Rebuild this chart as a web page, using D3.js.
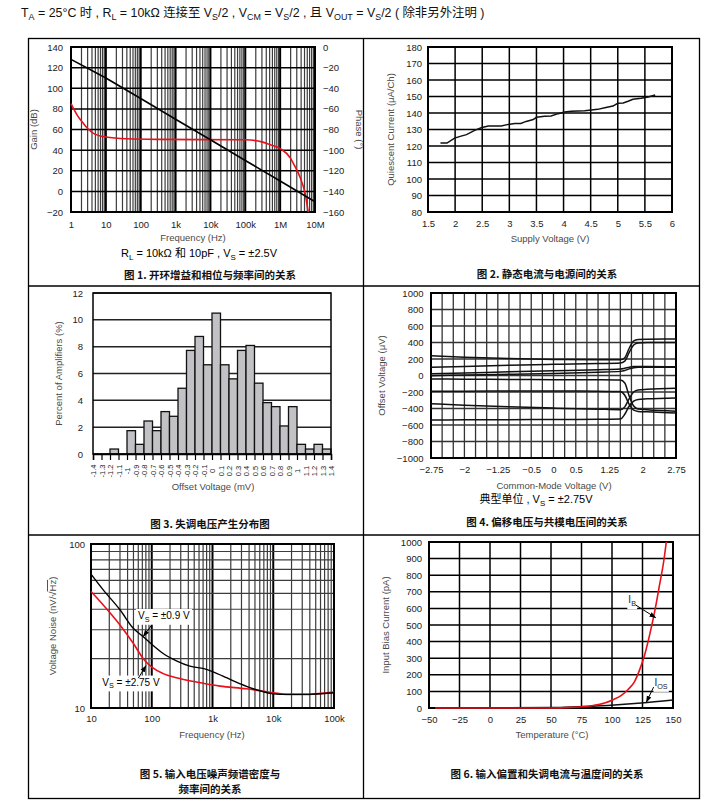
<!DOCTYPE html>
<html><head><meta charset="utf-8">
<script src="https://cdn.jsdelivr.net/npm/d3@7"></script>
<style>body{margin:0;background:#fff}svg{display:block}</style>
</head><body><script>
// ---------------- DATA ----------------
// Fig 1: open-loop gain & phase vs frequency
const gainFreq = [1, 10, 100, 1e3, 1e4, 1e5, 1e6, 1e7];
const gainDb = [128, 110, 90, 70, 50, 30, 10, -10];
const phaseFreq = [1, 1.5, 2.25, 3, 4.4, 10, 40, 300, 1e5, 3e5, 5e5, 1e6, 2e6, 2.4e6, 3.7e6, 5.2e6, 6.4e6];
const phaseDeg = [-55, -66, -74, -79, -83.7, -87.3, -89, -89.6, -90, -92, -94.5, -98.5, -108, -113, -126, -142, -160];
const fig1FreqTicks = [1, 10, 100, 1e3, 1e4, 1e5, 1e6, 1e7];
const fig1FreqLabels = ["1", "10", "100", "1k", "10k", "100k", "1M", "10M"];
const gainTicks = [-20, 0, 20, 40, 60, 80, 100, 120, 140];
const phaseTicks = [-160, -140, -120, -100, -80, -60, -40, -20, 0];

// Fig 2: quiescent current vs supply voltage
const supplyV = [1.73, 1.85, 1.99, 2.11, 2.21, 2.36, 2.48, 2.61, 2.85, 2.98, 3.1, 3.21, 3.31, 3.44, 3.5, 3.65, 3.77, 3.9, 4.02, 4.14, 4.39, 4.63, 4.76, 4.91, 5.0, 5.1, 5.19, 5.28, 5.43, 5.56, 5.69];
const quiescent = [121.8, 121.8, 124.8, 126, 126.9, 129.5, 131.1, 132.1, 132.1, 133.1, 133.7, 133.7, 134.9, 136, 137.4, 138, 138.2, 139.6, 140.6, 141, 141.4, 142.2, 143.2, 144.2, 145.9, 146.1, 147.1, 148.3, 148.9, 149.7, 150.9];
const supplyTicks = [1.5, 2, 2.5, 3, 3.5, 4, 4.5, 5, 5.5, 6];
const iqTicks = [80, 90, 100, 110, 120, 130, 140, 150, 160, 170, 180];

// Fig 3: offset voltage distribution (bins of 0.1 mV from -1.4 to 1.4)
const offsetEdges = [-1.4, -1.3, -1.2, -1.1, -1.0, -0.9, -0.8, -0.7, -0.6, -0.5, -0.4, -0.3, -0.2, -0.1, 0, 0.1, 0.2, 0.3, 0.4, 0.5, 0.6, 0.7, 0.8, 0.9, 1.0, 1.1, 1.2, 1.3, 1.4];
const offsetLabels = ["-1.4", "-1.3", "-1.2", "-1.1", "-1", "-0.9", "-0.8", "-0.7", "-0.6", "-0.5", "-0.4", "-0.3", "-0.2", "-0.1", "0", "0.1", "0.2", "0.3", "0.4", "0.5", "0.6", "0.7", "0.8", "0.9", "1", "1.1", "1.2", "1.3", "1.4"];
const percentAmps = [0, 0, 0.37, 0, 1.74, 0.72, 2.46, 1.74, 3.16, 2.81, 4.9, 7.72, 8.76, 6.65, 10.5, 6.65, 5.6, 7.72, 8.09, 5.28, 3.83, 3.53, 2.09, 3.53, 0.72, 0.37, 0.72, 0.37];
const percentTicks = [0, 2, 4, 6, 8, 10, 12];

// Fig 4: offset voltage vs common-mode voltage (typical units)
const cmV = [-2.75, -2, -1, 0, 1, 1.5, 1.6, 1.7, 1.8, 1.9, 2.1, 2.75];
const unitA = [240, 222, 205, 195, 190, 190, 215, 330, 420, 436, 440, 442];
const unitB = [100, 110, 125, 135, 145, 152, 175, 280, 370, 395, 400, 401];
const unitC = [20, 30, 45, 58, 70, 79, 88, 100, 108, 110, 108, 105];
const unitD = [-2, 5, 15, 25, 40, 50, 60, 80, 95, 100, 100, 100];
const unitE = [-42, -45, -48, -50, -52, -55, -90, -250, -370, -405, -415, -432];
const unitF = [-192, -190, -188, -188, -190, -195, -240, -350, -420, -435, -440, -455];
const unitG = [-342, -360, -380, -395, -408, -414, -380, -280, -200, -175, -168, -155];
const unitH = [-540, -537, -535, -533, -531, -527, -470, -370, -310, -290, -283, -272];
const cmTicks = [-2.75, -2, -1.25, -0.5, 0, 0.5, 1.25, 2, 2.75];
const vosTicks = [-1000, -800, -600, -400, -200, 0, 200, 400, 600, 800, 1000];

// Fig 5: voltage noise vs frequency
const noiseFreq = [10, 15.9, 30, 49.6, 72.5, 103, 154, 255, 424, 794, 1020, 1700, 2800, 4650, 10000, 16500, 31000, 100000];
const noise09 = [65.5, 52.5, 39.7, 30.6, 27.2, 24.2, 21.5, 19.4, 18.0, 17.2, 16.6, 15.3, 14.1, 13.1, 12.2, 12.1, 12.1, 12.4];
const noiseFreq2 = [10, 15.9, 30, 49.6, 72.5, 103, 154, 255, 545, 1330, 3600, 10000, 16500, 31000, 100000];
const noise275 = [51.3, 42.5, 32.1, 24.8, 20.0, 17.6, 16.2, 15.3, 14.4, 13.6, 13.1, 12.4, 12.1, 12.1, 12.5];
const noiseFreqTicks = [10, 100, 1e3, 1e4, 1e5];
const noiseFreqLabels = ["10", "100", "1k", "10k", "100k"];
const noiseTicks = [10, 100];

// Fig 6: input bias & offset current vs temperature
const tempIb = [-45, 0, 50, 66.8, 83, 94, 100.9, 107.7, 113, 118.6, 122.7, 126.8, 130.9, 135, 139, 142.4, 144.5];
const ib = [0, 0, 0, 4, 14, 30, 50, 76, 110, 161, 231, 321, 442, 582, 743, 884, 1000];
const tempIos = [-45, 0, 50, 66.8, 83, 102, 124, 150];
const ios = [0, 0, 2, 6, 10, 18, 30, 48];
const tempTicks = [-50, -25, 0, 25, 50, 75, 100, 125, 150];
const biasTicks = [0, 100, 200, 300, 400, 500, 600, 700, 800, 900, 1000];

// ---------------- DRAWING ----------------
const LAT = "'Liberation Sans', Arial, 'Noto Sans CJK SC', sans-serif";
const CJK = "'Noto Sans CJK SC', 'Liberation Sans', sans-serif";
const TICK = 9.5, TITLE = 9.5, TCOL = "#222", ACOL = "#4a4a4a";
const fmt = d => String(d).replace("-", "\u2212");

const svg = d3.select("body").append("svg").attr("width", 727).attr("height", 811)
  .style("font-family", LAT);
const defs = svg.append("defs");
defs.append("marker").attr("id", "arr").attr("viewBox", "0 0 10 10")
  .attr("refX", 9).attr("refY", 5).attr("markerWidth", 7).attr("markerHeight", 7)
  .attr("orient", "auto").attr("markerUnits", "userSpaceOnUse")
  .append("path").attr("d", "M0,1.5L10,5L0,8.5z").attr("fill", "#000");

// rich text with subscripts
function rich(g, x, y, parts, size, opts = {}) {
  const t = g.append("text").attr("x", x).attr("y", y).attr("font-size", size)
    .attr("text-anchor", opts.anchor || "start").attr("fill", opts.fill || "#000")
    .attr("font-weight", opts.weight || "normal");
  if (opts.family) t.attr("font-family", opts.family);
  if (opts.transform) t.attr("transform", opts.transform);
  let off = 0;
  parts.forEach(p => {
    if (typeof p === "string") {
      t.append("tspan").attr("dy", -off).text(p); off = 0;
    } else if (p.sub) {
      const d = size * 0.28;
      t.append("tspan").attr("dy", d - off).attr("font-size", size * 0.72).text(p.sub); off = d;
    } else if (p.over) {
      t.append("tspan").attr("dy", -off).style("text-decoration", "overline").text(p.over); off = 0;
    }
  });
  return t;
}
// white box behind a text element
function backing(g, t, pad) {
  const b = t.node().getBBox();
  g.insert("rect", () => t.node()).attr("x", b.x - pad).attr("y", b.y - 1)
    .attr("width", b.width + 2 * pad).attr("height", b.height + 2).attr("fill", "#fff");
}
function vgrid(g, xs, vals, y0, y1, col, w) {
  g.append("g").selectAll("line").data(vals).join("line")
    .attr("x1", d => xs(d)).attr("x2", d => xs(d)).attr("y1", y0).attr("y2", y1)
    .attr("stroke", col).attr("stroke-width", w);
}
function hgrid(g, ys, vals, x0, x1, col, w) {
  g.append("g").selectAll("line").data(vals).join("line")
    .attr("y1", d => ys(d)).attr("y2", d => ys(d)).attr("x1", x0).attr("x2", x1)
    .attr("stroke", col).attr("stroke-width", w);
}
function frame(g, xs, ys, w) {
  const [x0, x1] = xs.range(), [y0, y1] = ys.range();
  g.append("rect").attr("x", Math.min(x0, x1)).attr("y", Math.min(y0, y1))
    .attr("width", Math.abs(x1 - x0)).attr("height", Math.abs(y1 - y0))
    .attr("fill", "none").attr("stroke", "#000").attr("stroke-width", w);
}
function labelAxis(g, axis, tx, ty) {
  const a = g.append("g").attr("transform", `translate(${tx},${ty})`).call(axis);
  a.attr("font-family", LAT).attr("font-size", TICK);
  a.select(".domain").remove();
  a.selectAll(".tick line").remove();
  a.selectAll("text").attr("fill", TCOL);
  return a;
}
function yTitle(g, x, y, parts, rot = -90) {
  return rich(g, 0, 0, parts, TITLE, { anchor: "middle", fill: ACOL, transform: `translate(${x},${y}) rotate(${rot})` })
    .attr("dy", "0.35em");
}
function caption(g, x, y, txt) {
  g.append("text").attr("x", x).attr("y", y).attr("text-anchor", "middle")
    .attr("font-family", CJK).attr("font-weight", "bold").attr("font-size", 10.5).attr("fill", "#111").text(txt);
}
const mid = s => (s.range()[0] + s.range()[1]) / 2;

// header
rich(svg, 21, 17, ["T", { sub: "A" }, " = 25°C 时 , R", { sub: "L" }, " = 10kΩ 连接至 V", { sub: "S" }, "/2 , V", { sub: "CM" },
  " = V", { sub: "S" }, "/2 , 且 V", { sub: "OUT" }, " = V", { sub: "S" }, "/2 ( 除非另外注明 )"], 12.4, { fill: "#111" });

// outer table
const T = svg.append("g").attr("stroke", "#000").attr("stroke-width", 1.3).attr("fill", "none");
T.append("rect").attr("x", 28.5).attr("y", 38.5).attr("width", 671).attr("height", 760);
T.append("line").attr("x1", 363.5).attr("x2", 363.5).attr("y1", 38.5).attr("y2", 798.5);
T.append("line").attr("x1", 28.5).attr("x2", 699.5).attr("y1", 286).attr("y2", 286);
T.append("line").attr("x1", 28.5).attr("x2", 699.5).attr("y1", 535).attr("y2", 535);

// ---------- Fig 1 ----------
{
  const g = svg.append("g");
  const x = d3.scaleLog().domain([1, 1e7]).range([71, 315]);
  const y = d3.scaleLinear().domain([-20, 140]).range([212, 47]);
  const yp = d3.scaleLinear().domain([-160, 0]).range([212, 47]);
  const minor = [];
  for (let e = 0; e < 7; e++) for (let m = 2; m <= 9; m++) minor.push(m * Math.pow(10, e));
  vgrid(g, x, minor, 47, 212, "#3c3c3c", 1.2);
  vgrid(g, x, fig1FreqTicks, 47, 212, "#000", 2);
  hgrid(g, y, gainTicks, 71, 315, "#000", 1.5);
  frame(g, x, y, 2);
  g.append("path").datum(phaseFreq.map((f, i) => [f, phaseDeg[i]]))
    .attr("d", d3.line().x(d => x(d[0])).y(d => yp(d[1])).curve(d3.curveMonotoneX))
    .attr("fill", "none").attr("stroke", "#e8101a").attr("stroke-width", 1.6);
  g.append("path").datum(gainFreq.map((f, i) => [f, gainDb[i]]))
    .attr("d", d3.line().x(d => x(d[0])).y(d => y(d[1])))
    .attr("fill", "none").attr("stroke", "#000").attr("stroke-width", 1.6);
  labelAxis(g, d3.axisLeft(y).tickValues(gainTicks).tickSize(0).tickPadding(8).tickFormat(fmt), 71, 0);
  labelAxis(g, d3.axisRight(yp).tickValues(phaseTicks).tickSize(0).tickPadding(8).tickFormat(fmt), 315, 0);
  labelAxis(g, d3.axisBottom(x).tickValues(fig1FreqTicks).tickSize(0).tickPadding(9).tickFormat((d, i) => fig1FreqLabels[i]), 0, 212);
  yTitle(g, 37, mid(y), ["Gain (dB)"]);
  yTitle(g, 356, mid(y), ["Phase (°)"], 90);
  g.append("text").attr("x", mid(x)).attr("y", 241).attr("text-anchor", "middle").attr("font-size", TITLE).attr("fill", ACOL).text("Frequency (Hz)");
  rich(g, 199, 257, ["R", { sub: "L" }, " = 10kΩ 和 10pF , V", { sub: "S" }, " = ±2.5V"], 11, { anchor: "middle" });
  caption(g, 210, 279, "图 1. 开环增益和相位与频率间的关系");
}

// ---------- Fig 2 ----------
{
  const g = svg.append("g");
  const x = d3.scaleLinear().domain([1.5, 6]).range([428, 672]);
  const y = d3.scaleLinear().domain([80, 180]).range([212, 47]);
  vgrid(g, x, supplyTicks, 47, 212, "#000", 1.5);
  hgrid(g, y, iqTicks, 428, 672, "#000", 1.5);
  frame(g, x, y, 2);
  g.append("path").datum(supplyV.map((v, i) => [v, quiescent[i]]))
    .attr("d", d3.line().x(d => x(d[0])).y(d => y(d[1])))
    .attr("fill", "none").attr("stroke", "#111").attr("stroke-width", 1.5);
  labelAxis(g, d3.axisLeft(y).tickValues(iqTicks).tickSize(0).tickPadding(6), 428, 0);
  labelAxis(g, d3.axisBottom(x).tickValues(supplyTicks).tickSize(0).tickPadding(8).tickFormat(d => String(d)), 0, 212);
  yTitle(g, 394, mid(y), ["Quiescent Current (μA/Ch)"]);
  g.append("text").attr("x", mid(x)).attr("y", 242).attr("text-anchor", "middle").attr("font-size", TITLE).attr("fill", ACOL).text("Supply Voltage (V)");
  caption(g, 547, 278, "图 2. 静态电流与电源间的关系");
}

// ---------- Fig 3 ----------
{
  const g = svg.append("g");
  const x = d3.scaleLinear().domain([-1.4, 1.4]).range([93, 331]);
  const y = d3.scaleLinear().domain([0, 12]).range([454, 293]);
  hgrid(g, y, percentTicks, 93, 331, "#222", 1.5);
  g.append("g").selectAll("rect").data(percentAmps).join("rect")
    .attr("x", (d, i) => x(offsetEdges[i])).attr("width", (d, i) => x(offsetEdges[i + 1]) - x(offsetEdges[i]))
    .attr("y", d => y(d)).attr("height", d => y(0) - y(d))
    .attr("fill", "#c2c2c6").attr("stroke", "#111").attr("stroke-width", 1.3);
  frame(g, x, y, 1.5);
  labelAxis(g, d3.axisLeft(y).tickValues(percentTicks).tickSize(0).tickPadding(10), 93, 0);
  const ax = g.append("g").attr("transform", `translate(0,${y(0)})`)
    .call(d3.axisBottom(x).tickValues(offsetEdges).tickSize(6).tickPadding(0).tickFormat((d, i) => offsetLabels[i]));
  ax.attr("font-family", LAT).attr("font-size", 7.5);
  ax.select(".domain").attr("stroke", "#000").attr("stroke-width", 1.5);
  ax.selectAll(".tick line").attr("stroke", "#000").attr("stroke-width", 1.2);
  ax.selectAll("text").attr("fill", TCOL).attr("transform", "rotate(-90)")
    .attr("x", -17).attr("y", 0).attr("dy", "0.35em").attr("text-anchor", "middle");
  yTitle(g, 62, mid(y), ["Percent of Amplifiers (%)"]);
  g.append("text").attr("x", 213).attr("y", 490).attr("text-anchor", "middle").attr("font-size", TITLE).attr("fill", ACOL).text("Offset Voltage (mV)");
  caption(g, 210, 528, "图 3. 失调电压产生分布图");
}

// ---------- Fig 4 ----------
{
  const g = svg.append("g");
  const x = d3.scaleLinear().domain([-2.75, 2.75]).range([431, 676]);
  const y = d3.scaleLinear().domain([-1000, 1000]).range([458, 293]);
  vgrid(g, x, d3.range(0, 23).map(i => -2.75 + i * 0.25), 293, 458, "#333", 1.3);
  hgrid(g, y, vosTicks, 431, 676, "#333", 1.3);
  frame(g, x, y, 2);
  const line = d3.line().x((d, i) => x(cmV[i])).y(d => y(d)).curve(d3.curveMonotoneX);
  g.append("g").selectAll("path").data([unitA, unitB, unitC, unitD, unitE, unitF, unitG, unitH]).join("path")
    .attr("d", line).attr("fill", "none").attr("stroke", "#111").attr("stroke-width", 1.5);
  labelAxis(g, d3.axisLeft(y).tickValues(vosTicks).tickSize(0).tickPadding(7.5).tickFormat(fmt), 431, 0);
  labelAxis(g, d3.axisBottom(x).tickValues(cmTicks).tickSize(0).tickPadding(8).tickFormat(fmt), 0, 458);
  yTitle(g, 385, mid(y), ["Offset Voltage (μV)"]);
  g.append("text").attr("x", 554).attr("y", 489).attr("text-anchor", "middle").attr("font-size", TITLE).attr("fill", ACOL).text("Common-Mode Voltage (V)");
  rich(g, 536, 503, ["典型单位 , V", { sub: "S" }, " = ±2.75V"], 11, { anchor: "middle" });
  caption(g, 547, 526, "图 4. 偏移电压与共模电压间的关系");
}

// ---------- Fig 5 ----------
{
  const g = svg.append("g");
  const x = d3.scaleLog().domain([10, 1e5]).range([91, 334]);
  const y = d3.scaleLog().domain([10, 100]).range([708, 544]);
  const minor = [];
  for (let e = 1; e < 5; e++) for (let m = 2; m <= 9; m++) minor.push(m * Math.pow(10, e));
  vgrid(g, x, minor, 544, 708, "#3c3c3c", 1.2);
  vgrid(g, x, noiseFreqTicks, 544, 708, "#000", 2);
  hgrid(g, y, [20, 30, 40, 50, 60, 70, 80, 90], 91, 334, "#3c3c3c", 1.2);
  frame(g, x, y, 2);
  const ln = d3.line().x(d => x(d[0])).y(d => y(d[1])).curve(d3.curveMonotoneX);
  g.append("path").datum(noiseFreq2.map((f, i) => [f, noise275[i]])).attr("d", ln)
    .attr("fill", "none").attr("stroke", "#e8101a").attr("stroke-width", 1.6);
  g.append("path").datum(noiseFreq.map((f, i) => [f, noise09[i]])).attr("d", ln)
    .attr("fill", "none").attr("stroke", "#000").attr("stroke-width", 1.4);
  labelAxis(g, d3.axisLeft(y).tickValues(noiseTicks).tickSize(0).tickPadding(6).tickFormat(d => String(d)), 91, 0);
  labelAxis(g, d3.axisBottom(x).tickValues(noiseFreqTicks).tickSize(0).tickPadding(7).tickFormat((d, i) => noiseFreqLabels[i]), 0, 708);
  yTitle(g, 56, mid(y), ["Voltage Noise (nV/√", { over: "Hz" }, ")"]);
  g.append("text").attr("x", 212).attr("y", 738).attr("text-anchor", "middle").attr("font-size", TITLE).attr("fill", ACOL).text("Frequency (Hz)");
  // annotations
  const a1 = rich(g, x(158), y(34.9), ["V", { sub: "S" }, " = ±0.9 V"], 10, { anchor: "middle" }).attr("dy", "0.3em");
  backing(g, a1, 2);
  g.append("line").attr("x1", x(100)).attr("y1", y(32.1)).attr("x2", x(72.6)).attr("y2", y(27.3))
    .attr("stroke", "#000").attr("stroke-width", 1).attr("marker-end", "url(#arr)");
  const a2 = rich(g, x(45.5), y(13.7), ["V", { sub: "S" }, " = ±2.75 V"], 10, { anchor: "middle" }).attr("dy", "0.3em");
  backing(g, a2, 2);
  g.append("line").attr("x1", x(60)).attr("y1", y(15.2)).attr("x2", x(80.3)).attr("y2", y(18.1))
    .attr("stroke", "#000").attr("stroke-width", 1).attr("marker-end", "url(#arr)");
  caption(g, 210, 778, "图 5. 输入电压噪声频谱密度与");
  caption(g, 210, 793, "频率间的关系");
}

// ---------- Fig 6 ----------
{
  const g = svg.append("g");
  const x = d3.scaleLinear().domain([-50, 150]).range([429, 673]);
  const y = d3.scaleLinear().domain([0, 1000]).range([708, 542]);
  vgrid(g, x, tempTicks, 542, 708, "#000", 1.5);
  hgrid(g, y, biasTicks, 429, 673, "#000", 1.5);
  frame(g, x, y, 2);
  const ln = d3.line().x(d => x(d[0])).y(d => y(d[1])).curve(d3.curveMonotoneX);
  g.append("path").datum(tempIos.map((t, i) => [t, ios[i]])).attr("d", ln)
    .attr("fill", "none").attr("stroke", "#111").attr("stroke-width", 1.6);
  g.append("path").datum(tempIb.map((t, i) => [t, ib[i]])).attr("d", ln)
    .attr("fill", "none").attr("stroke", "#e8101a").attr("stroke-width", 1.6);
  labelAxis(g, d3.axisLeft(y).tickValues(biasTicks).tickSize(0).tickPadding(7).tickFormat(d => String(d)), 429, 0);
  labelAxis(g, d3.axisBottom(x).tickValues(tempTicks).tickSize(0).tickPadding(8.5).tickFormat(fmt), 0, 708);
  yTitle(g, 389, mid(y), ["Input Bias Current (pA)"]);
  g.append("text").attr("x", 552).attr("y", 738).attr("text-anchor", "middle").attr("font-size", TITLE).attr("fill", ACOL).text("Temperature (°C)");
  const ibl = rich(g, x(113.4), y(630), ["I", { sub: "B" }], 10, { fill: "#222" });
  backing(g, ibl, 1);
  g.append("line").attr("x1", x(119.5)).attr("y1", y(620)).attr("x2", x(135.8)).attr("y2", y(544))
    .attr("stroke", "#000").attr("stroke-width", 1).attr("marker-end", "url(#arr)");
  const iosl = rich(g, x(134.8), y(132), ["I", { sub: "OS" }], 10, { fill: "#222" });
  backing(g, iosl, 1);
  g.append("line").attr("x1", x(134.1)).attr("y1", y(126)).attr("x2", x(128.2)).attr("y2", y(35))
    .attr("stroke", "#000").attr("stroke-width", 1).attr("marker-end", "url(#arr)");
  caption(g, 547, 778, "图 6. 输入偏置和失调电流与温度间的关系");
}
</script></body></html>
